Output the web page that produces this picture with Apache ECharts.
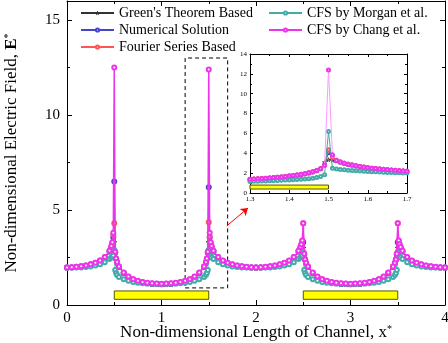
<!DOCTYPE html>
<html>
<head>
<meta charset="utf-8">
<script src="https://cdn.jsdelivr.net/npm/echarts@6/dist/echarts.min.js"></script>
<style>
  html, body { margin: 0; padding: 0; background: #fff; }
  #chart { width: 448px; height: 343px; }
</style>
</head>
<body>
<div id="chart"></div>
<script>
// x positions of the main curves (denser near electrode edges)
var xs = [0,0.05,0.1,0.15,0.2,0.25,0.3,0.35,0.4,0.45,
  0.47,0.48,0.49,0.5,0.51,0.52,0.53,
  0.55,0.6,0.65,0.7,0.75,0.8,0.85,0.9,0.95,1.0,1.05,1.1,1.15,1.2,1.25,1.3,1.35,1.4,1.45,
  1.47,1.48,1.49,1.5,1.51,1.52,1.53,
  1.55,1.6,1.65,1.7,1.75,1.8,1.85,1.9,1.95,2.0,2.05,2.1,2.15,2.2,2.25,2.3,2.35,2.4,2.45,
  2.47,2.48,2.49,2.5,2.51,2.52,2.53,
  2.55,2.6,2.65,2.7,2.75,2.8,2.85,2.9,2.95,3.0,3.05,3.1,3.15,3.2,3.25,3.3,3.35,3.4,3.45,
  3.47,3.48,3.49,3.5,3.51,3.52,3.53,
  3.55,3.6,3.65,3.7,3.75,3.8,3.85,3.9,3.95,4.0];

var greens = [1.97,1.98,2.00,2.03,2.07,2.12,2.20,2.32,2.49,2.80,
  3.00,3.12,3.25,3.30,2.72,2.40,2.22,
  1.99,1.67,1.46,1.32,1.23,1.17,1.13,1.10,1.09,1.08,1.09,1.10,1.13,1.17,1.23,1.32,1.46,1.67,1.99,
  2.22,2.40,2.72,3.30,3.25,3.12,3.00,
  2.80,2.49,2.31,2.19,2.11,2.05,2.01,1.98,1.97,1.96,1.97,1.98,2.01,2.05,2.11,2.19,2.31,2.49,2.80,
  2.95,3.02,3.05,3.00,2.60,2.35,2.18,
  1.99,1.67,1.46,1.32,1.23,1.17,1.13,1.10,1.09,1.08,1.09,1.10,1.13,1.17,1.23,1.32,1.46,1.67,1.99,
  2.18,2.35,2.60,3.00,3.05,3.02,2.95,
  2.80,2.49,2.31,2.19,2.11,2.05,2.01,1.98,1.97,1.96];

var numerical = [1.97,1.98,2.00,2.03,2.07,2.13,2.21,2.33,2.50,2.82,
  3.05,3.22,3.55,6.50,2.75,2.42,2.23,
  2.00,1.68,1.47,1.33,1.24,1.18,1.14,1.11,1.10,1.09,1.10,1.11,1.14,1.18,1.24,1.33,1.47,1.68,2.00,
  2.23,2.42,2.75,6.20,3.55,3.22,3.05,
  2.82,2.50,2.32,2.20,2.12,2.06,2.02,1.99,1.97,1.97,1.97,1.99,2.02,2.06,2.12,2.20,2.32,2.50,2.82,
  3.00,3.12,3.25,3.30,2.65,2.37,2.20,
  2.00,1.68,1.47,1.33,1.24,1.18,1.14,1.11,1.10,1.09,1.10,1.11,1.14,1.18,1.24,1.33,1.47,1.68,2.00,
  2.20,2.37,2.65,3.30,3.25,3.12,3.00,
  2.82,2.50,2.32,2.20,2.12,2.06,2.02,1.99,1.97,1.97];

var fourier = [1.98,1.99,2.01,2.04,2.08,2.14,2.22,2.34,2.52,2.84,
  3.08,3.28,3.70,4.30,2.78,2.44,2.25,
  2.02,1.70,1.49,1.35,1.26,1.20,1.16,1.13,1.12,1.11,1.12,1.13,1.16,1.20,1.26,1.35,1.49,1.70,2.02,
  2.25,2.44,2.78,4.35,3.60,3.28,3.08,
  2.84,2.51,2.33,2.21,2.13,2.07,2.03,2.00,1.98,1.98,1.98,2.00,2.03,2.07,2.13,2.21,2.33,2.51,2.84,
  3.04,3.18,3.38,4.30,2.68,2.39,2.21,
  2.02,1.70,1.49,1.35,1.26,1.20,1.16,1.13,1.12,1.11,1.12,1.13,1.16,1.20,1.26,1.35,1.49,1.70,2.02,
  2.21,2.39,2.68,4.30,3.38,3.18,3.04,
  2.84,2.51,2.33,2.21,2.13,2.07,2.03,2.00,1.98,1.98];

var morgan = [1.97,1.97,1.97,1.98,2.00,2.03,2.08,2.15,2.25,2.42,
  2.50,2.55,2.60,2.90,1.84,1.68,1.58,
  1.47,1.36,1.28,1.21,1.17,1.15,1.13,1.12,1.11,1.11,1.11,1.12,1.13,1.15,1.17,1.21,1.28,1.36,1.47,
  1.58,1.68,1.84,2.90,2.60,2.55,2.50,
  2.42,2.25,2.15,2.08,2.03,2.00,1.98,1.97,1.97,1.97,1.97,1.97,1.98,2.00,2.03,2.08,2.15,2.25,2.42,
  2.50,2.55,2.60,2.80,1.84,1.68,1.58,
  1.47,1.36,1.28,1.21,1.17,1.15,1.13,1.12,1.11,1.11,1.11,1.12,1.13,1.15,1.17,1.21,1.28,1.36,1.47,
  1.58,1.68,1.84,2.80,2.60,2.55,2.50,
  2.42,2.25,2.15,2.08,2.03,2.00,1.98,1.97,1.97,1.97];

var chang = [1.98,1.99,2.01,2.04,2.08,2.14,2.22,2.34,2.52,2.85,
  3.10,3.30,3.80,12.5,2.80,2.45,2.26,
  2.03,1.71,1.50,1.36,1.27,1.21,1.17,1.14,1.13,1.12,1.13,1.14,1.17,1.21,1.27,1.36,1.50,1.71,2.03,
  2.26,2.45,2.80,12.4,3.80,3.30,3.10,
  2.85,2.52,2.34,2.22,2.14,2.08,2.04,2.01,1.99,1.98,1.99,2.01,2.04,2.08,2.14,2.22,2.34,2.52,2.85,
  3.05,3.20,3.40,4.30,2.70,2.40,2.22,
  2.03,1.71,1.50,1.36,1.27,1.21,1.17,1.14,1.13,1.12,1.13,1.14,1.17,1.21,1.27,1.36,1.50,1.71,2.03,
  2.22,2.40,2.70,4.30,3.40,3.20,3.05,
  2.85,2.52,2.34,2.22,2.14,2.08,2.04,2.01,1.99,1.98];

// inset (zoom of 1.3 - 1.7)
var insetX = [1.30,1.31,1.32,1.33,1.34,1.35,1.36,1.37,1.38,1.39,1.40,1.41,1.42,1.43,1.44,1.45,1.46,1.47,1.48,1.49,
  1.50,1.51,1.52,1.53,1.54,1.55,1.56,1.57,1.58,1.59,1.60,1.61,1.62,1.63,1.64,1.65,1.66,1.67,1.68,1.69,1.70];
var insetGreens = [1.36,1.38,1.41,1.43,1.46,1.49,1.53,1.57,1.60,1.65,1.69,1.74,1.80,1.86,1.93,2.01,2.11,2.24,2.45,3.10,
  3.35,3.30,3.22,3.10,2.99,2.89,2.81,2.73,2.66,2.60,2.54,2.49,2.45,2.41,2.37,2.33,2.30,2.27,2.24,2.21,2.19];
var insetNumerical = [1.37,1.39,1.42,1.44,1.47,1.50,1.54,1.58,1.61,1.66,1.70,1.75,1.81,1.87,1.94,2.02,2.12,2.25,2.44,2.85,
  4.05,3.70,3.28,3.11,2.99,2.89,2.81,2.73,2.66,2.60,2.54,2.49,2.45,2.41,2.37,2.33,2.30,2.27,2.24,2.21,2.19];
var insetFourier = [1.38,1.40,1.43,1.45,1.48,1.51,1.55,1.59,1.62,1.67,1.71,1.76,1.82,1.88,1.95,2.03,2.13,2.26,2.45,2.80,
  4.35,3.60,3.30,3.12,3.00,2.90,2.82,2.74,2.67,2.61,2.55,2.50,2.46,2.42,2.38,2.34,2.31,2.28,2.25,2.22,2.20];
var insetMorgan = [1.17,1.18,1.19,1.20,1.21,1.23,1.24,1.26,1.28,1.30,1.32,1.34,1.36,1.39,1.41,1.44,1.48,1.55,1.65,1.84,
  6.20,2.50,2.42,2.37,2.33,2.30,2.27,2.24,2.21,2.19,2.17,2.15,2.13,2.11,2.09,2.07,2.06,2.04,2.03,2.02,2.01];
var insetChang = [1.38,1.40,1.43,1.45,1.48,1.51,1.55,1.59,1.62,1.67,1.71,1.76,1.82,1.88,1.95,2.03,2.13,2.26,2.45,2.80,
  12.4,3.85,3.30,3.12,3.00,2.90,2.82,2.74,2.67,2.61,2.55,2.50,2.46,2.42,2.38,2.34,2.31,2.28,2.25,2.22,2.20];

// electrodes (yellow bars) and zoom box
var electrodes = [[0.5, 1.5], [2.5, 3.5]];
var electrodeY = [0.3, 0.74];
var insetElectrode = [1.3, 1.5];
var insetElectrodeY = [0.4, 0.8];
var zoomBoxX = [1.25, 1.7];
var zoomBoxY = [0.9, 13];
var arrowFrom = [1.69, 4.16];
var arrowTo = [1.915, 5.1];

var names = ["Green's Theorem Based", 'Numerical Solution', 'Fourier Series Based', 'CFS by Morgan et al.', 'CFS by Chang et al.'];
var colors = ['#333333', '#4444cc', '#ff5555', '#44aaaa', '#ee33ee'];
var mainData = [greens, numerical, fourier, morgan, chang];
var insetData = [insetGreens, insetNumerical, insetFourier, insetMorgan, insetChang];

var font = 'Liberation Serif';
var star = 'path://M50,0 L61,35 L98,35 L68,57 L79,91 L50,70 L21,91 L32,57 L2,35 L39,35 Z';

function pairs(x, y) {
  return x.map(function (v, i) { return [v, y[i]]; });
}

function frameAxis(extra) {
  var base = {
    type: 'value',
    axisLine: { show: true, onZero: false, lineStyle: { color: '#000', width: 1 } },
    axisTick: { show: true, inside: true, length: 5, lineStyle: { color: '#000' } },
    minorTick: { show: true, splitNumber: 2, length: 3, lineStyle: { color: '#000' } },
    splitLine: { show: false },
    axisLabel: { show: false }
  };
  return Object.assign(base, extra);
}

var series = [];
names.forEach(function (n, i) {
  series.push({
    name: n,
    type: 'line',
    xAxisIndex: 0,
    yAxisIndex: 0,
    data: pairs(xs, mainData[i]),
    symbol: i === 0 ? star : 'emptyCircle',
    symbolSize: i === 0 ? 5 : 4,
    showAllSymbol: true,
    lineStyle: { color: colors[i], width: i === 4 ? 1.5 : 1 },
    itemStyle: { color: i === 0 ? 'transparent' : colors[i], borderColor: colors[i], borderWidth: 1 },
    z: 2 + i
  });
});
names.forEach(function (n, i) {
  series.push({
    name: n,
    type: 'line',
    xAxisIndex: 2,
    yAxisIndex: 2,
    data: pairs(insetX, insetData[i]),
    symbol: i === 0 ? star : 'emptyCircle',
    symbolSize: i === 0 ? 4 : 3,
    showAllSymbol: true,
    lineStyle: { color: i === 4 ? '#ff99ff' : colors[i], width: 1 },
    itemStyle: { color: i === 0 ? 'transparent' : colors[i], borderColor: i === 4 ? '#ee66ee' : colors[i], borderWidth: 0.8 },
    z: 2 + i
  });
});

// electrodes, zoom box, arrow
series.push({
  type: 'line', xAxisIndex: 0, yAxisIndex: 0, data: [], silent: true,
  markArea: {
    silent: true,
    itemStyle: { color: '#ffff00', borderColor: '#555500', borderWidth: 1 },
    data: electrodes.map(function (e) {
      return [{ coord: [e[0], electrodeY[0]] }, { coord: [e[1], electrodeY[1]] }];
    })
  }
});
series.push({
  type: 'line', xAxisIndex: 0, yAxisIndex: 0, data: [], silent: true, z: 10,
  markArea: {
    silent: true,
    itemStyle: { color: 'rgba(0,0,0,0)', borderColor: '#000', borderWidth: 1, borderType: [4, 3] },
    data: [[{ coord: [zoomBoxX[0], zoomBoxY[0]] }, { coord: [zoomBoxX[1], zoomBoxY[1]] }]]
  },
  markLine: {
    silent: true,
    symbol: ['none', 'arrow'],
    symbolSize: 7,
    label: { show: false },
    lineStyle: { color: '#ff0000', width: 1, type: 'solid' },
    data: [[{ coord: arrowFrom }, { coord: arrowTo }]]
  }
});
series.push({
  type: 'line', xAxisIndex: 2, yAxisIndex: 2, data: [], silent: true,
  markArea: {
    silent: true,
    itemStyle: { color: '#ffff00', borderColor: '#555500', borderWidth: 1 },
    data: [[{ coord: [insetElectrode[0], insetElectrodeY[0]] }, { coord: [insetElectrode[1], insetElectrodeY[1]] }]]
  }
});

var legendText = { fontFamily: font, fontSize: 14, color: '#000' };

var option = {
  animation: false,
  backgroundColor: '#fff',
  textStyle: { fontFamily: font, color: '#000' },
  legend: [{
    data: names.slice(0, 3),
    orient: 'vertical',
    left: 80, top: 6,
    itemWidth: 33, itemHeight: 4, itemGap: 3,
    padding: 0,
    itemStyle: { borderWidth: 1 },
    textStyle: legendText,
    selectedMode: false
  }, {
    data: names.slice(3),
    orient: 'vertical',
    left: 268, top: 6,
    itemWidth: 33, itemHeight: 4, itemGap: 3,
    padding: 0,
    itemStyle: { borderWidth: 1 },
    textStyle: legendText,
    selectedMode: false
  }],
  grid: [
    { left: 67, right: 3, top: 1, bottom: 38, containLabel: false, outerBoundsMode: 'none' },
    { left: 250, top: 54, width: 157, height: 139, containLabel: false, outerBoundsMode: 'none',
      show: true, backgroundColor: '#fff', borderWidth: 0 }
  ],
  xAxis: [
    frameAxis({
      gridIndex: 0, min: 0, max: 4, interval: 1, position: 'bottom',
      axisLabel: { show: true, fontFamily: font, fontSize: 15, color: '#000', margin: 6 },
      name: 'Non-dimensional Length of Channel, x{s|*}',
      nameLocation: 'middle', nameGap: 19, nameMoveOverlap: false,
      nameTextStyle: { fontFamily: font, fontSize: 17, color: '#000',
        rich: { s: { fontFamily: font, fontSize: 10, verticalAlign: 'top', color: '#000' } } }
    }),
    frameAxis({ gridIndex: 0, min: 0, max: 4, interval: 1, position: 'top' }),
    frameAxis({
      gridIndex: 1, min: 1.3, max: 1.7, interval: 0.1, position: 'bottom',
      axisTick: { show: true, inside: true, length: 3, lineStyle: { color: '#000' } },
      minorTick: { show: true, splitNumber: 2, length: 2, lineStyle: { color: '#000' } },
      axisLabel: { show: true, fontFamily: font, fontSize: 7, color: '#000', margin: 3,
        formatter: function (v) { return v.toFixed(1); } }
    }),
    frameAxis({ gridIndex: 1, min: 1.3, max: 1.7, interval: 0.1, position: 'top',
      axisTick: { show: true, inside: true, length: 3, lineStyle: { color: '#000' } },
      minorTick: { show: true, splitNumber: 2, length: 2, lineStyle: { color: '#000' } } })
  ],
  yAxis: [
    frameAxis({
      gridIndex: 0, min: 0, max: 16, interval: 5, position: 'left',
      axisLabel: { show: true, fontFamily: font, fontSize: 15, color: '#000', margin: 7, showMaxLabel: false,
        formatter: function (v) { return v % 5 === 0 ? String(v) : ''; } },
      name: 'Non-dimensional Electric Field, {b|E}{s|*}',
      nameLocation: 'middle', nameGap: 47, nameRotate: 90, nameMoveOverlap: false,
      nameTextStyle: { fontFamily: font, fontSize: 17, color: '#000',
        rich: {
          b: { fontFamily: font, fontSize: 17, fontWeight: 'bold', color: '#000' },
          s: { fontFamily: font, fontSize: 10, verticalAlign: 'top', color: '#000' }
        } }
    }),
    frameAxis({ gridIndex: 0, min: 0, max: 16, interval: 5, position: 'right' }),
    frameAxis({
      gridIndex: 1, min: 0, max: 14, interval: 2, position: 'left',
      axisTick: { show: true, inside: true, length: 3, lineStyle: { color: '#000' } },
      minorTick: { show: true, splitNumber: 2, length: 2, lineStyle: { color: '#000' } },
      axisLabel: { show: true, fontFamily: font, fontSize: 7, color: '#000', margin: 3 }
    }),
    frameAxis({ gridIndex: 1, min: 0, max: 14, interval: 2, position: 'right',
      axisTick: { show: true, inside: true, length: 3, lineStyle: { color: '#000' } },
      minorTick: { show: true, splitNumber: 2, length: 2, lineStyle: { color: '#000' } } })
  ],
  series: series
};

var chart = echarts.init(document.getElementById('chart'), null, { renderer: 'canvas' });
chart.setOption(option);
</script>
</body>
</html>
